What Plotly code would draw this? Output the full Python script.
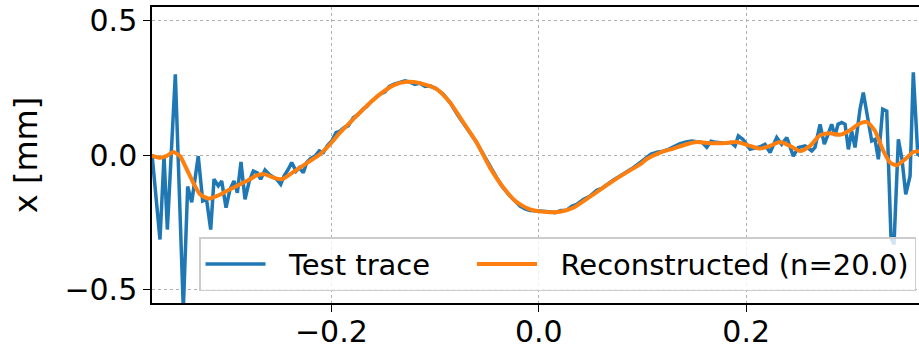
import plotly.graph_objects as go

# Test trace (noisy), x in position units, y in mm
test_x = [-0.3730, -0.3653, -0.3614, -0.3582, -0.3505, -0.3428, -0.3386, -0.3347, -0.3284, -0.3241,
          -0.3204, -0.3164, -0.3132, -0.3091, -0.3058, -0.3016, -0.2978, -0.2939, -0.2907, -0.2872,
          -0.2833, -0.2792, -0.2753, -0.2715, -0.2682, -0.2640, -0.2599, -0.2560, -0.2528, -0.2489,
          -0.2457, -0.2416, -0.2383, -0.2341, -0.2310, -0.2271, -0.2238, -0.2200, -0.2158, -0.2117,
          -0.2078, -0.2040, -0.1997, -0.1956, -0.1917, -0.1878, -0.1837, -0.1789, -0.1741, -0.1698,
          -0.1660, -0.1611, -0.1570, -0.1531, -0.1483, -0.1442, -0.1396, -0.1338, -0.1290, -0.1242,
          -0.1194, -0.1146, -0.1097, -0.1049, -0.0985, -0.0921, -0.0856, -0.0776, -0.0695, -0.0647,
          -0.0599, -0.0557, -0.0519, -0.0480, -0.0439, -0.0398, -0.0358, -0.0318, -0.0278, -0.0230,
          -0.0181, -0.0133, -0.0085, -0.0020, 0.0043, 0.0098, 0.0156, 0.0214, 0.0269, 0.0317,
          0.0365, 0.0429, 0.0494, 0.0558, 0.0607, 0.0655, 0.0716, 0.0783, 0.0848, 0.0911,
          0.0976, 0.1041, 0.1082, 0.1140, 0.1198, 0.1249, 0.1304, 0.1362, 0.1419, 0.1474,
          0.1526, 0.1574, 0.1619, 0.1661, 0.1709, 0.1757, 0.1805, 0.1853, 0.1892, 0.1924,
          0.1969, 0.2037, 0.2101, 0.2143, 0.2181, 0.2230, 0.2294, 0.2342, 0.2391, 0.2454,
          0.2502, 0.2567, 0.2632, 0.2663, 0.2712, 0.2753, 0.2789, 0.2824, 0.2856, 0.2885,
          0.2921, 0.2953, 0.2985, 0.3017, 0.3049, 0.3097, 0.3129, 0.3172, 0.3210, 0.3242,
          0.3274, 0.3316, 0.3355, 0.3396, 0.3425, 0.3467, 0.3502, 0.3538, 0.3580, 0.3611,
          0.3654, 0.3700]
test_y = [0.003, -0.314, -0.004, -0.277, 0.300, -0.574, -0.117, -0.176, -0.004, -0.171,
          -0.165, -0.277, -0.090, -0.115, -0.097, -0.196, -0.128, -0.097, -0.140, -0.026,
          -0.165, -0.097, -0.060, -0.066, -0.090, -0.056, -0.072, -0.084, -0.090, -0.109,
          -0.078, -0.053, -0.028, -0.060, -0.047, -0.066, -0.028, -0.013, -0.004, 0.015,
          0.009, 0.034, 0.052, 0.083, 0.089, 0.102, 0.108, 0.139, 0.152, 0.170,
          0.180, 0.201, 0.214, 0.226, 0.235, 0.255, 0.263, 0.270, 0.276, 0.271,
          0.262, 0.267, 0.255, 0.257, 0.245, 0.226, 0.195, 0.145, 0.102, 0.077,
          0.046, 0.017, -0.010, -0.038, -0.066, -0.090, -0.115, -0.135, -0.153, -0.171,
          -0.190, -0.200, -0.206, -0.207, -0.208, -0.211, -0.214, -0.206, -0.205, -0.191,
          -0.184, -0.165, -0.153, -0.131, -0.124, -0.109, -0.094, -0.078, -0.064, -0.047,
          -0.028, -0.010, 0.003, 0.010, 0.014, 0.021, 0.032, 0.042, 0.048, 0.052,
          0.049, 0.047, 0.029, 0.051, 0.047, 0.046, 0.044, 0.047, 0.034, 0.071,
          0.058, 0.021, 0.028, 0.032, 0.040, 0.009, 0.065, 0.040, 0.065, -0.004,
          0.028, 0.034, 0.015, 0.028, 0.114, 0.040, 0.077, 0.114, 0.071, 0.114,
          0.121, 0.114, 0.021, 0.089, 0.028, 0.170, 0.232, 0.127, 0.052, 0.058,
          -0.016, 0.170, 0.163, -0.308, -0.332, 0.058, -0.016, -0.146, -0.078, 0.307,
          0.003, -0.010]

# Reconstructed trace (smooth)
rec_x = [-0.3730, -0.3653, -0.3588, -0.3525, -0.3460, -0.3395, -0.3332, -0.3267, -0.3187, -0.3106,
         -0.3010, -0.2913, -0.2817, -0.2720, -0.2640, -0.2560, -0.2479, -0.2399, -0.2303, -0.2206,
         -0.2110, -0.2013, -0.1917, -0.1789, -0.1660, -0.1531, -0.1403, -0.1274, -0.1146, -0.0985,
         -0.0856, -0.0728, -0.0599, -0.0471, -0.0342, -0.0213, -0.0085, 0.0076, 0.0204, 0.0333,
         0.0494, 0.0655, 0.0815, 0.0976, 0.1041, 0.1169, 0.1297, 0.1426, 0.1523, 0.1651,
         0.1779, 0.1908, 0.2037, 0.2133, 0.2230, 0.2326, 0.2422, 0.2519, 0.2615, 0.2712,
         0.2808, 0.2904, 0.3001, 0.3081, 0.3162, 0.3242, 0.3322, 0.3387, 0.3451, 0.3531,
         0.3611, 0.3700]
rec_y = [-0.002, -0.010, -0.003, 0.011, -0.004, -0.053, -0.103, -0.146, -0.162, -0.153,
         -0.134, -0.115, -0.097, -0.076, -0.072, -0.084, -0.090, -0.072, -0.047, -0.022,
         0.003, 0.040, 0.083, 0.133, 0.182, 0.226, 0.259, 0.272, 0.267, 0.245,
         0.195, 0.121, 0.046, -0.047, -0.121, -0.175, -0.202, -0.212, -0.211, -0.196,
         -0.155, -0.112, -0.072, -0.035, -0.015, 0.009, 0.024, 0.040, 0.048, 0.044,
         0.044, 0.048, 0.034, 0.024, 0.034, 0.048, 0.034, 0.015, 0.034, 0.073,
         0.081, 0.075, 0.092, 0.114, 0.123, 0.089, 0.015, -0.028, -0.038, -0.016,
         0.011, 0.015]

x_ticks = [-0.2, 0.0, 0.2]
y_ticks = [-0.5, 0.0, 0.5]

FONT = "DejaVu Sans"
NB = "\u00a0"

fig = go.Figure()
fig.add_trace(go.Scatter(x=test_x, y=test_y, mode="lines",
                         name=NB * 2 + "Test trace" + NB * 4,
                         line=dict(color="#1f77b4", width=3.5)))
fig.add_trace(go.Scatter(x=rec_x, y=rec_y, mode="lines",
                         name=NB * 2 + "Reconstructed (n=20.0)",
                         line=dict(color="#ff7f0e", width=4, shape="spline", smoothing=0.6)))

axis_common = dict(
    showgrid=True, gridcolor="#b0b0b0", gridwidth=1, griddash="dot",
    zeroline=False, showline=True, linecolor="black", linewidth=1.5,
    ticks="outside", ticklen=7, tickwidth=1.3, tickcolor="black",
    tickfont=dict(family=FONT, size=30, color="black"), tickformat=".1f",
)

fig.update_layout(
    width=919, height=351,
    margin=dict(l=152, r=0, t=7, b=48),
    paper_bgcolor="white", plot_bgcolor="white",
    font=dict(family=FONT, size=29, color="black"),
    showlegend=True,
    legend=dict(
        orientation="h", x=0.0613, xanchor="left", y=0.04, yanchor="bottom",
        bgcolor="rgba(255,255,255,0.8)", bordercolor="#cccccc", borderwidth=1.5,
        font=dict(family=FONT, size=29, color="black"),
        itemwidth=60,
    ),
    xaxis=dict(range=[-0.373, 0.3666], tickvals=x_ticks, mirror=True,
               ticklabelstandoff=-6, **axis_common),
    yaxis=dict(range=[-0.55, 0.55], tickvals=y_ticks, mirror=False,
               title=dict(text="x [mm]", font=dict(family=FONT, size=32), standoff=17),
               **axis_common),
)

fig.write_html("out.html", config={"displayModeBar": False},
               post_script="document.body.style.margin='0';")
